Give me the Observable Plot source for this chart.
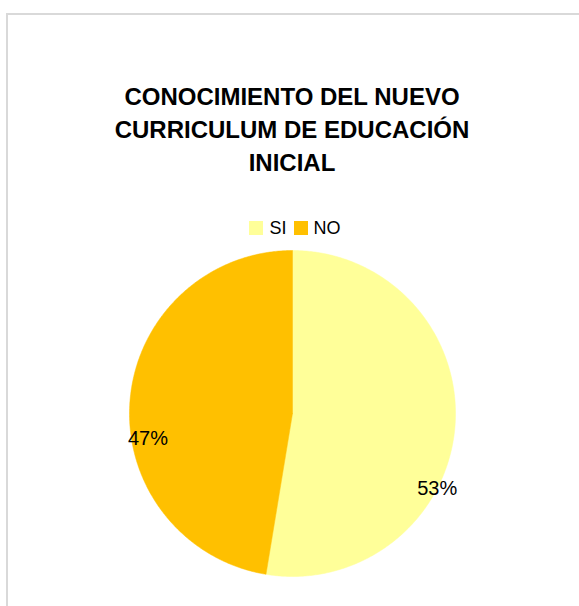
<!DOCTYPE html>
<html>
<head>
<meta charset="utf-8">
<script src="https://cdn.jsdelivr.net/npm/d3@7"></script>
<script src="https://cdn.jsdelivr.net/npm/@observablehq/plot@0.6"></script>
<style>
  html, body { margin: 0; padding: 0; background: #fff; overflow: hidden; width: 579px; height: 606px; }
  #frame { position: absolute; left: 6px; top: 13px; width: 700px; height: 800px; border: 2px solid #d9d9d9; box-sizing: border-box; }
  #title { position: absolute; left: 0; width: 584px; top: 80px; text-align: center; font: bold 24px "Liberation Sans", Arial, sans-serif; line-height: 33px; color: #000; }
  #legend { position: absolute; left: 0; width: 597px; top: 218px; display: flex; justify-content: center; align-items: center; font: 18px "Liberation Sans", Arial, sans-serif; line-height: 20px; color: #000; }
  #legend .sw { display: inline-block; width: 14px; height: 14px; margin-right: 6px; }
  #legend .item { display: flex; align-items: center; margin-right: 7px; }
  #chart { position: absolute; left: 0; top: 245px; }
</style>
</head>
<body>
<div id="frame"></div>
<div id="title">CONOCIMIENTO DEL NUEVO<br>CURRICULUM DE EDUCACIÓN<br>INICIAL</div>
<div id="legend"></div>
<div id="chart"></div>
<script>
const categories = ["SI", "NO"];
const values = [52.6, 47.4];
const colors = ["#FFFF99", "#FFC000"];

// layout constants (not data)
const W = 579, H = 361, R = 163, CX = 292, CY = 168;
const labelPlacement = { SI: { frac: 0.62, r: 1.0 }, NO: { frac: 0.415, r: 0.9 } };

const data = categories.map((c, i) => ({ name: c, value: values[i] }));
const total = d3.sum(values);
const arcs = d3.pie().sort(null).value(d => d.value).startAngle(0).endAngle(2 * Math.PI)(data);

// polygon outlines of each slice in unit coordinates (y up), derived from the pie angles
const pts = [];
for (const a of arcs) {
  pts.push({ name: a.data.name, x: 0, y: 0 });
  const n = Math.max(2, Math.ceil((a.endAngle - a.startAngle) / (Math.PI / 360)));
  for (let k = 0; k <= n; k++) {
    const t = a.startAngle + (a.endAngle - a.startAngle) * k / n;
    pts.push({ name: a.data.name, x: Math.sin(t), y: Math.cos(t) });
  }
  pts.push({ name: a.data.name, x: 0, y: 0 });
}

const labels = arcs.map(a => {
  const p = labelPlacement[a.data.name];
  const t = a.startAngle + (a.endAngle - a.startAngle) * p.frac;
  return { name: a.data.name, x: p.r * Math.sin(t), y: p.r * Math.cos(t), text: Math.round(a.data.value / total * 100) + "%" };
});

const legend = document.getElementById("legend");
categories.forEach((c, i) => {
  const item = document.createElement("span");
  item.className = "item";
  item.innerHTML = `<span class="sw" style="background:${colors[i]}"></span><span>${c}</span>`;
  legend.appendChild(item);
});

const plot = Plot.plot({
  width: W,
  height: H,
  margin: 0,
  x: { domain: [-CX / R, (W - CX) / R], axis: null },
  y: { domain: [-(H - CY) / R, CY / R], axis: null },
  color: { domain: categories, range: colors },
  style: { background: "transparent", overflow: "visible" },
  marks: [
    Plot.line(pts, { x: "x", y: "y", z: "name", fill: "name", stroke: "name", strokeWidth: 0.5, curve: "linear" }),
    Plot.text(labels, { x: "x", y: "y", text: "text", fontSize: 20, fontFamily: "Liberation Sans, Arial, sans-serif", fill: "#000" })
  ]
});
document.getElementById("chart").appendChild(plot);
</script>
</body>
</html>
